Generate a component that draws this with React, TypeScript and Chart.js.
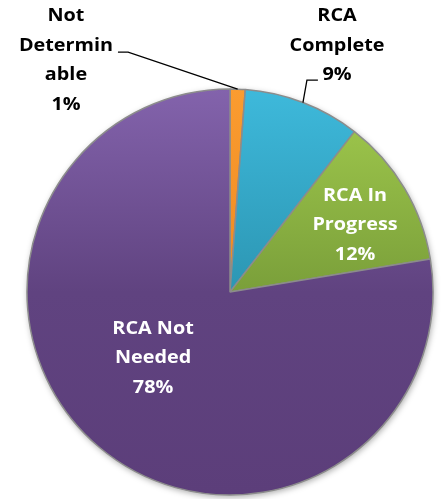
import React, { useEffect, useRef } from "react";
import { Chart, registerables } from "chart.js";

Chart.register(...registerables);

const categories = ["Not Determinable", "RCA Complete", "RCA In Progress", "RCA Not Needed"];
const values = [1.2, 9.3, 11.9, 77.6];
const labelLines = [["Not", "Determin", "able"], ["RCA", "Complete"], ["RCA In", "Progress"], ["RCA Not", "Needed"]];
const labelColors = ["#000000", "#000000", "#ffffff", "#ffffff"];
const gradientStops = [
  ["#FA9C30", "#EE8A22", "#E9821A"],
  ["#3EB9DB", "#2C96B3", "#2A90AC"],
  ["#A3CC4E", "#7A9F3A", "#739636"],
  ["#8363AC", "#604380", "#5C3E7A"],
];
// label block centers, in units of radius relative to pie centre
const labelAnchors = [
  [-0.808, -1.14],
  [0.527, -1.214],
  [0.616, -0.33],
  [-0.379, 0.325],
];
// leader lines: [elbow, end] in radius units (null = no leader)
const leaders: (number[][] | null)[] = [
  [[-0.502, -1.182], [-0.552, -1.182]],
  [[0.379, -1.044], [0.433, -1.044]],
  null,
  null,
];

const RADIUS = 203;
const FONT = "bold 18px 'Open Sans', Lato, sans-serif";
const X_STRETCH = 1.1;
const LINE_H = 29.5;

export default function App() {
  const ref = useRef<HTMLCanvasElement | null>(null);
  useEffect(() => {
    const canvas = ref.current!;
    const labelPlugin = {
      id: "pieLabels",
      beforeDatasetsDraw(chart: any) {
        const meta = chart.getDatasetMeta(0);
        const a = meta.data[0];
        if (!a) return;
        const ctx = chart.ctx;
        ctx.save();
        ctx.shadowColor = "rgba(0,0,0,0.35)";
        ctx.shadowBlur = 6;
        ctx.shadowOffsetX = 1;
        ctx.shadowOffsetY = 2;
        ctx.beginPath();
        ctx.arc(a.x, a.y, a.outerRadius, 0, Math.PI * 2);
        ctx.fillStyle = "#ffffff";
        ctx.fill();
        ctx.restore();
      },
      afterDatasetsDraw(chart: any) {
        const meta = chart.getDatasetMeta(0);
        const ctx = chart.ctx;
        ctx.save();
        meta.data.forEach((arc: any, i: number) => {
          const cx = arc.x, cy = arc.y, R = arc.outerRadius;
          const lead = leaders[i];
          if (lead) {
            const mid = (arc.startAngle + arc.endAngle) / 2;
            ctx.beginPath();
            ctx.moveTo(cx + R * Math.cos(mid), cy + R * Math.sin(mid));
            lead.forEach((p) => ctx.lineTo(cx + p[0] * R, cy + p[1] * R));
            ctx.strokeStyle = "#000000";
            ctx.lineWidth = 1.3;
            ctx.stroke();
          }
          const lines = [...labelLines[i], Math.round(values[i]) + "%"];
          const bx = cx + labelAnchors[i][0] * R;
          const by = cy + labelAnchors[i][1] * R;
          ctx.font = FONT;
          ctx.fillStyle = labelColors[i];
          ctx.textAlign = "center";
          ctx.textBaseline = "middle";
          const n = lines.length;
          lines.forEach((t, k) => {
            ctx.save();
            ctx.translate(bx, by + (k - (n - 1) / 2) * LINE_H);
            ctx.scale(X_STRETCH, 1);
            ctx.fillText(t, 0, 0);
            ctx.restore();
          });
        });
        ctx.restore();
      },
    };
    const chart = new Chart(canvas, {
      type: "pie",
      data: {
        labels: categories,
        datasets: [
          {
            data: values,
            backgroundColor: (c: any) => {
              const chart = c.chart;
              const area = chart.chartArea;
              const stops = gradientStops[c.dataIndex];
              if (!area) return stops[1];
              const cy = (area.top + area.bottom) / 2;
              const g = chart.ctx.createLinearGradient(0, cy - RADIUS, 0, cy + RADIUS);
              g.addColorStop(0, stops[0]);
              g.addColorStop(0.5, stops[1]);
              g.addColorStop(1, stops[2]);
              return g;
            },
            borderColor: "#8C8C8C",
            borderWidth: 1.5,
            radius: RADIUS,
            hoverOffset: 0,
          } as any,
        ],
      },
      options: {
        responsive: false,
        animation: false,
        layout: { padding: { left: 18, right: 0, top: 85, bottom: 0 } },
        plugins: { legend: { display: false }, tooltip: { enabled: false } },
      },
      plugins: [labelPlugin],
    });
    return () => chart.destroy();
  }, []);
  return (
    <div style={{ position: "fixed", left: 0, top: 0, width: 442, height: 499, background: "#ffffff" }}>
      <canvas ref={ref} width={442} height={499} style={{ width: 442, height: 499, display: "block" }} />
    </div>
  );
}
